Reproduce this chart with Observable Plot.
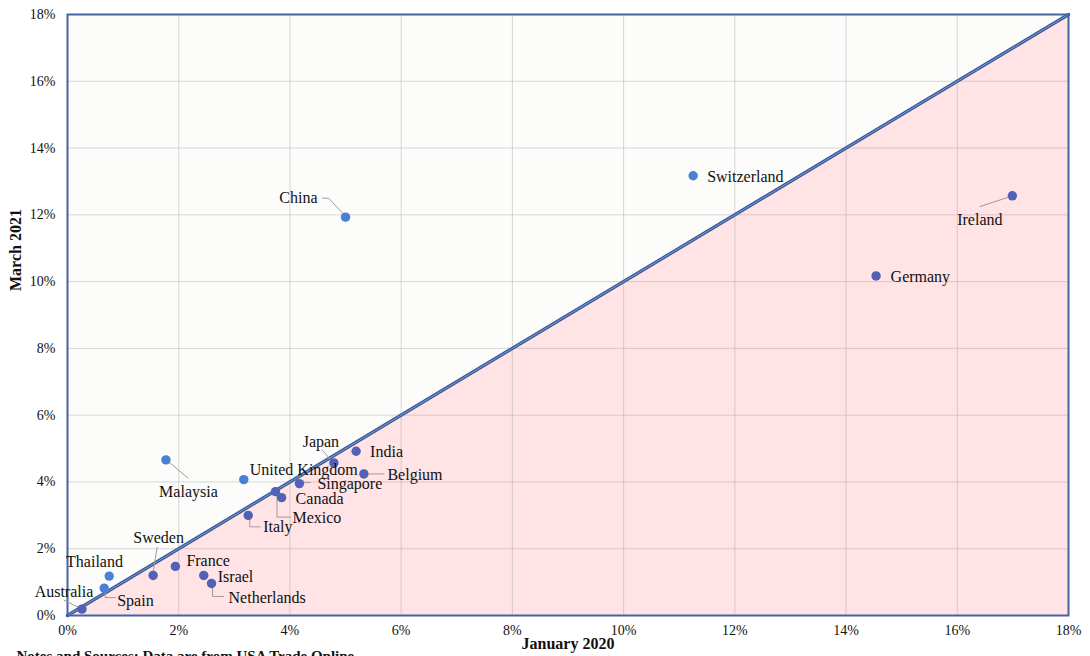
<!DOCTYPE html>
<html>
<head>
<meta charset="utf-8">
<script src="https://cdn.jsdelivr.net/npm/d3@7"></script>
<script src="https://cdn.jsdelivr.net/npm/@observablehq/plot@0.6"></script>
<style>
  html, body { margin: 0; padding: 0; background: #ffffff; overflow: hidden; }
  #chart svg { overflow: visible; }
  #chart svg, #chart svg text { font-family: "Liberation Serif", "Times New Roman", serif !important; }
</style>
</head>
<body>
<div id="chart"></div>
<script>
// ---- Data (in %) ----
const countries = ["China","Switzerland","Ireland","Germany","Malaysia","United Kingdom","Japan","India","Belgium","Singapore","Canada","Mexico","Italy","Sweden","France","Israel","Netherlands","Thailand","Spain","Australia"];
const jan2020 = [5.00, 11.25, 16.99, 14.54, 1.77, 3.17, 4.79, 5.19, 5.33, 4.17, 3.85, 3.74, 3.25, 1.54, 1.94, 2.45, 2.59, 0.75, 0.66, 0.26];
const mar2021 = [11.93, 13.17, 12.57, 10.17, 4.66, 4.07, 4.57, 4.92, 4.24, 3.95, 3.53, 3.71, 3.00, 1.20, 1.47, 1.20, 0.96, 1.18, 0.82, 0.19];
const axisTicks = [0, 2, 4, 6, 8, 10, 12, 14, 16, 18];
const xTitle = "January 2020";
const yTitle = "March 2021";
const noteText = "Notes and Sources: Data are from USA Trade Online";

// ---- Layout (label offsets in pixels relative to each dot) ----
const labelLayout = {
  "China": [-28, -19, "end"],
  "Switzerland": [14, 1, "start"],
  "Ireland": [-32.5, 24, "middle"],
  "Germany": [14.5, 1, "start"],
  "Malaysia": [22.5, 32, "middle"],
  "United Kingdom": [6, -10, "start"],
  "Japan": [-13, -21, "middle"],
  "India": [14, 1, "start"],
  "Belgium": [23.5, 0.5, "start"],
  "Singapore": [18, 0, "start"],
  "Canada": [14, 1, "start"],
  "Mexico": [17, 26, "start"],
  "Italy": [15, 12, "start"],
  "Sweden": [5.5, -38, "middle"],
  "France": [11, -6, "start"],
  "Israel": [14, 1, "start"],
  "Netherlands": [17, 14, "start"],
  "Thailand": [-14.7, -14.7, "middle"],
  "Spain": [13, 13, "start"],
  "Australia": [-18, -17.7, "middle"]
};
const leaderLayout = {
  "China": [[-23, -19], [-17, -19], [-2, -3]],
  "Ireland": [[-32.4, 10.7], [-4, 1.5]],
  "Malaysia": [[4, 3], [22, 18]],
  "Japan": [[-12, -13], [-2, -2]],
  "Belgium": [[5, 0], [20, 0]],
  "Singapore": [[3, -1], [11, -1]],
  "Mexico": [[1.5, 1], [1.5, 25.5], [15, 25.5]],
  "Italy": [[1.5, 3], [1.5, 11.5], [12, 11.5]],
  "Sweden": [[4, -28], [0, -3]],
  "Netherlands": [[1, 3], [1, 13], [12, 13]],
  "Spain": [[1, 3], [1, 9.5], [11, 9.5]],
  "Australia": [[-18, -9], [-4, -2]]
};

const W = 1090, H = 656;
const mL = 67, mR = 22, mT = 14, mB = 41;
const dom = [0, 18];
const kx = (W - mL - mR) / (dom[1] - dom[0]);
const ky = (H - mT - mB) / (dom[1] - dom[0]);

const points = countries.map((name, i) => ({name, x: jan2020[i], y: mar2021[i]}));
const labels = points.map(p => {
  const [dx, dy, anchor] = labelLayout[p.name];
  return {name: p.name, anchor, lx: p.x + dx / kx, ly: p.y - dy / ky};
});
const leaders = [];
for (const p of points) {
  const segs = leaderLayout[p.name];
  if (!segs) continue;
  for (const [dx, dy] of segs) leaders.push({name: p.name, x: p.x + dx / kx, y: p.y - dy / ky});
}
const diag = [{x: dom[0], y: dom[0]}, {x: dom[1], y: dom[1]}];

const lightBlue = "#4a80d3";
const darkBlue = "#5061b6";

const plot = Plot.plot({
  width: W, height: H,
  marginLeft: mL, marginRight: mR, marginTop: mT, marginBottom: mB,
  style: {fontSize: "14px", color: "#111", background: "#ffffff"},
  x: {domain: dom, ticks: axisTicks, tickFormat: d => d + "%", tickSize: 0, tickPadding: 10, label: null},
  y: {domain: dom, ticks: axisTicks, tickFormat: d => d + "%", tickSize: 0, tickPadding: 12, label: null},
  marks: [
    Plot.frame({fill: "#fcfcfb"}),
    Plot.areaY(diag, {x: "x", y1: () => 0, y2: "y", fill: "#ffe3e5"}),
    Plot.ruleX(axisTicks.slice(1, -1), {stroke: "#a8a8a8", strokeOpacity: 0.45}),
    Plot.ruleY(axisTicks.slice(1, -1), {stroke: "#a8a8a8", strokeOpacity: 0.45}),
    Plot.line(diag, {x: "x", y: "y", stroke: "#3a5c9c", strokeWidth: 3.4}),
    Plot.line(diag, {x: "x", y: "y", stroke: "#8ea6d0", strokeWidth: 0.8}),
    Plot.frame({stroke: "#4264a3", strokeWidth: 2}),
    Plot.line(leaders, {x: "x", y: "y", z: "name", stroke: "#9c9c9c", strokeWidth: 1}),
    Plot.dot(points, {x: "x", y: "y", r: 4.7, fill: d => (d.y > d.x ? lightBlue : darkBlue), stroke: "none"}),
    ...["start", "middle", "end"].map(a =>
      Plot.text(labels.filter(l => l.anchor === a), {x: "lx", y: "ly", text: "name", textAnchor: a, fontSize: 16, fill: "#111"})
    ),
    Plot.text([xTitle], {frameAnchor: "bottom", dy: 33, fontWeight: "bold", fontSize: 16, fill: "#111"}),
    Plot.text([yTitle], {frameAnchor: "left", dx: -52, dy: -24, rotate: -90, fontWeight: "bold", fontSize: 16, fill: "#111"}),
    Plot.text([noteText], {frameAnchor: "bottom-left", dx: -51, dy: 45, textAnchor: "start", fontWeight: "bold", fontSize: 15, fill: "#111"})
  ]
});
document.getElementById("chart").appendChild(plot);
</script>
</body>
</html>
